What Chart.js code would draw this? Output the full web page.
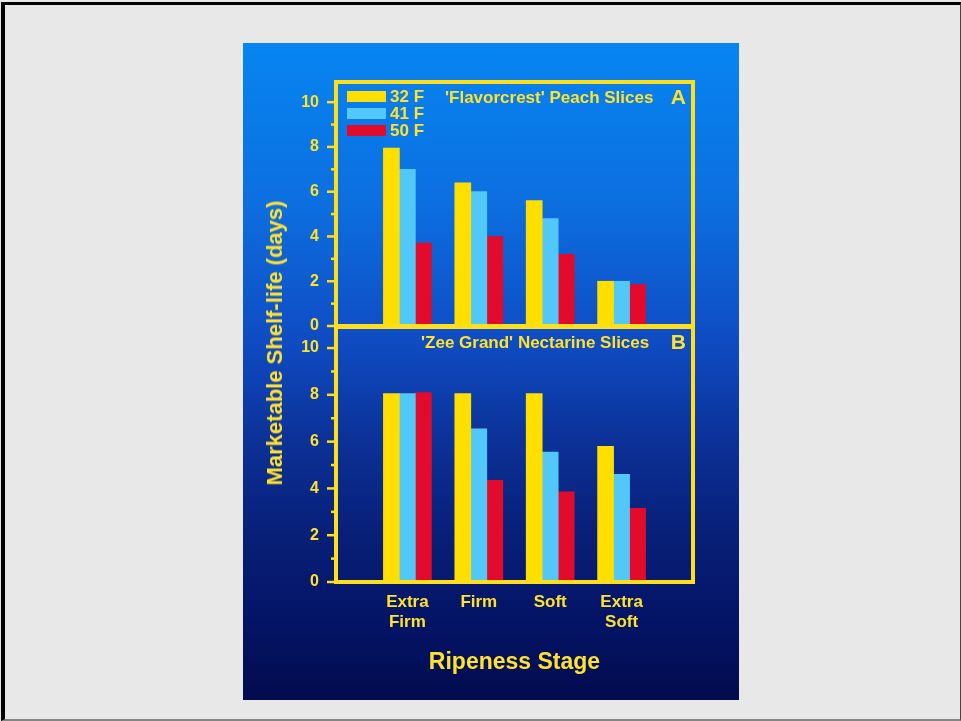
<!DOCTYPE html>
<html>
<head>
<meta charset="utf-8">
<script src="https://cdn.jsdelivr.net/npm/chart.js@4/dist/chart.umd.min.js"></script>
<style>
  html, body { margin: 0; padding: 0; background: #e8e8e8; width: 961px; height: 721px; overflow: hidden; }
  #frame {
    position: absolute; left: 1px; top: 2px; width: 955px; height: 714px;
    border-left: 4px solid #000; border-top: 3px solid #000;
    border-right: 1px solid #444; border-bottom: 2px solid #858585;
    background: #e8e8e8;
  }
  #slide {
    position: absolute; left: 243px; top: 43px; width: 496px; height: 657px;
    background: linear-gradient(to bottom, #0685f2 0%, #0d6edf 25%, #0f4cc4 45%, #0c3299 60%, #081f78 75%, #041466 88%, #020b4d 100%);
    overflow: hidden;
  }
  canvas { position: absolute; left: 0; }
  #cA { top: 0; }
  #cB { top: 272px; }
  #ytitle {
    position: absolute; left: 275px; top: 343px;
    transform: translate(-50%, -50%) rotate(-90deg);
    white-space: nowrap; color: #ffe22e;
    font: bold 22px "Liberation Sans", Arial, sans-serif;
  }
</style>
</head>
<body>
<div id="frame"></div>
<div id="slide">
  <canvas id="cA" width="496" height="295"></canvas>
  <canvas id="cB" width="496" height="385"></canvas>
</div>
<div id="ytitle">Marketable Shelf-life (days)</div>
<script>
// Ripeness stages (blank slots pad the axis on both sides)
const stages = ['', ['Extra', 'Firm'], 'Firm', 'Soft', ['Extra', 'Soft'], ''];
const temps = ['32 F', '41 F', '50 F'];

// Panel A: 'Flavorcrest' peach slices, shelf-life in days
const peach32 = [null, 7.95, 6.4, 5.6, 2.0, null];
const peach41 = [null, 7.0, 6.0, 4.8, 2.0, null];
const peach50 = [null, 3.7, 4.0, 3.2, 1.85, null];

// Panel B: 'Zee Grand' nectarine slices, shelf-life in days
const nect32 = [null, 8.05, 8.05, 8.05, 5.8, null];
const nect41 = [null, 8.05, 6.55, 5.55, 4.6, null];
const nect50 = [null, 8.1, 4.35, 3.85, 3.15, null];

const yTicks = [0, 1, 2, 3, 4, 5, 6, 7, 8, 9, 10];

const FONT = '"Liberation Sans", Arial, sans-serif';
const TEXT = '#ffe22e';
const FRAME = '#ffdf1c';
const barColors = ['#ffdf00', '#52c8f8', '#e20b2b'];

// frame, tick marks, panel caption, panel letter and legend
const panelDecor = {
  id: 'panelDecor',
  afterDatasetsDraw(chart, args, opts) {
    const { ctx, chartArea: a } = chart;
    const ys = chart.scales.y;
    ctx.save();
    ctx.strokeStyle = FRAME;
    ctx.lineWidth = 4;
    ctx.strokeRect(a.left, a.top, a.right - a.left, a.bottom - a.top);
    ctx.lineWidth = 2.5;
    yTicks.forEach(v => {
      const y = ys.getPixelForValue(v);
      const len = v % 2 === 0 ? 9 : 5;
      ctx.beginPath();
      ctx.moveTo(a.left - len, y);
      ctx.lineTo(a.left, y);
      ctx.stroke();
    });
    ctx.fillStyle = TEXT;
    ctx.textBaseline = 'middle';
    ctx.textAlign = 'left';
    ctx.font = 'bold 17px ' + FONT;
    ctx.fillText(opts.caption, a.left + opts.captionDx, a.top + opts.captionDy);
    ctx.textAlign = 'right';
    ctx.font = 'bold 21px ' + FONT;
    ctx.fillText(opts.letter, a.right - 7, a.top + opts.captionDy);
    if (opts.legend) {
      ctx.textAlign = 'left';
      ctx.font = 'bold 17px ' + FONT;
      chart.data.datasets.forEach((ds, i) => {
        const top = a.top + 9 + i * 17;
        ctx.fillStyle = ds.backgroundColor;
        ctx.fillRect(a.left + 11, top, 39, 11);
        ctx.fillStyle = TEXT;
        ctx.fillText(ds.label, a.left + 54, top + 6);
      });
    }
    ctx.restore();
  }
};

function makeDatasets(series) {
  return series.map((vals, i) => ({
    label: temps[i],
    data: vals,
    backgroundColor: barColors[i],
    borderWidth: 0,
    barThickness: 16
  }));
}

function yScale() {
  return {
    min: 0, max: 10.9,
    afterBuildTicks: s => { s.ticks = yTicks.map(v => ({ value: v })); },
    afterFit: s => { s.width = 93; },
    // the gap between labels and frame comes from tickLength (marks are drawn by panelDecor)
    grid: { display: false, drawTicks: true, tickLength: 17 },
    border: { display: false },
    ticks: {
      autoSkip: false,
      padding: 0,
      color: TEXT,
      font: { family: FONT, weight: 'bold', size: 16 },
      callback: v => (v % 2 === 0 ? String(v) : '')
    }
  };
}

Chart.defaults.font.family = FONT;

new Chart(document.getElementById('cA'), {
  type: 'bar',
  data: { labels: stages, datasets: makeDatasets([peach32, peach41, peach50]) },
  options: {
    responsive: false,
    animation: false,
    layout: { padding: { top: 39, right: 46, bottom: 12, left: 0 } },
    plugins: {
      legend: { display: false },
      tooltip: { enabled: false },
      panelDecor: { caption: "'Flavorcrest' Peach Slices", captionDx: 109, captionDy: 16, letter: 'A', legend: true }
    },
    scales: {
      x: { display: false, offset: false },
      y: yScale()
    }
  },
  plugins: [panelDecor]
});

new Chart(document.getElementById('cB'), {
  type: 'bar',
  data: { labels: stages, datasets: makeDatasets([nect32, nect41, nect50]) },
  options: {
    responsive: false,
    animation: false,
    layout: { padding: { top: 12, right: 46, bottom: 0, left: 0 } },
    plugins: {
      legend: { display: false },
      tooltip: { enabled: false },
      panelDecor: { caption: "'Zee Grand' Nectarine Slices", captionDx: 85, captionDy: 16, letter: 'B', legend: false }
    },
    scales: {
      x: {
        offset: false,
        afterFit: s => { s.height = 118; },
        grid: { display: false, drawTicks: false },
        border: { display: false },
        ticks: {
          autoSkip: false, maxRotation: 0, padding: 10,
          color: TEXT,
          font: { family: FONT, weight: 'bold', size: 17 }
        },
        title: {
          display: true,
          text: 'Ripeness Stage',
          color: TEXT,
          font: { family: FONT, weight: 'bold', size: 23 },
          padding: { top: 0, bottom: 24 }
        }
      },
      y: yScale()
    }
  },
  plugins: [panelDecor]
});
</script>
</body>
</html>
